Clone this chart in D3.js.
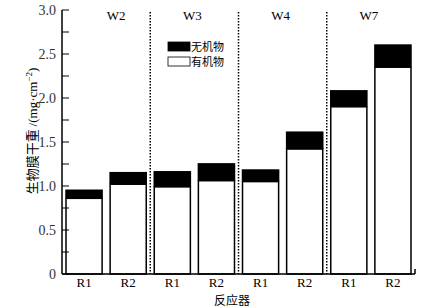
<!DOCTYPE html>
<html>
<head>
<meta charset="utf-8">
<script src="https://cdn.jsdelivr.net/npm/d3@7"></script>
<style>
  body { margin: 0; background: #fff; }
</style>
</head>
<body>
<svg id="chart" width="428" height="307" font-family="'Liberation Serif', 'Times New Roman', 'DejaVu Serif', serif"></svg>
<script>
// data
var groups = ['W2', 'W3', 'W4', 'W7'];
var reactors = ['R1', 'R2'];
var organic = [0.86, 1.02, 0.99, 1.06, 1.05, 1.42, 1.90, 2.35];
var inorganic = [0.10, 0.14, 0.18, 0.20, 0.14, 0.20, 0.19, 0.26];
var yTicks = [0, 0.5, 1.0, 1.5, 2.0, 2.5, 3.0];
var legendNames = ['无机物', '有机物'];

(function() {
    var svg = d3.select('#chart');
    var left = 62, right = 415, top = 10, bottom = 274;
    var serif = "'Liberation Serif', 'Times New Roman', serif";
    var cjk = '"Noto Sans CJK SC"';

    var cats = [];
    groups.forEach(function(g) {
        reactors.forEach(function(r) { cats.push(g + '-' + r); });
    });

    var x = d3.scaleBand()
        .domain(cats)
        .range([left, right])
        .paddingInner(8 / 44)
        .paddingOuter(4 / 44);
    var y = d3.scaleLinear().domain([0, 3]).range([bottom, top]);

    // dotted separators between groups
    for (var i = 1; i < groups.length; i++) {
        var sx = x(cats[i * 2]) - x.step() * x.paddingInner() / 2;
        svg.append('line')
            .attr('x1', sx).attr('x2', sx)
            .attr('y1', top + 2).attr('y2', bottom)
            .style('stroke', '#000')
            .style('stroke-width', 1.5)
            .style('stroke-dasharray', '1.5,1.5');
    }

    // bars
    cats.forEach(function(c, i) {
        var bx = x(c), bw = x.bandwidth();
        var tot = organic[i] + inorganic[i];
        svg.append('rect')
            .attr('x', bx).attr('y', y(organic[i]))
            .attr('width', bw).attr('height', y(0) - y(organic[i]))
            .style('fill', '#fff')
            .style('stroke', '#000')
            .style('stroke-width', 1.5);
        svg.append('rect')
            .attr('x', bx - 0.75).attr('y', y(tot))
            .attr('width', bw + 1.5).attr('height', y(organic[i]) - y(tot))
            .style('fill', '#000');
    });

    // y axis with inward ticks
    var minor = d3.range(0, 3.001, 0.25);
    svg.append('line')
        .attr('x1', left).attr('x2', left)
        .attr('y1', top).attr('y2', bottom)
        .style('stroke', '#000').style('stroke-width', 1.5);
    svg.selectAll('.tk').data(minor).enter().append('line')
        .attr('x1', left).attr('x2', left + 7)
        .attr('y1', function(d) { return y(d); })
        .attr('y2', function(d) { return y(d); })
        .style('stroke', '#000').style('stroke-width', 1);
    svg.selectAll('.yl').data(yTicks).enter().append('text')
        .attr('x', left - 6)
        .attr('y', function(d) { return y(d) + 5; })
        .attr('text-anchor', 'end')
        .style('font-family', serif)
        .style('font-size', '14px')
        .style('fill', '#333')
        .text(function(d) { return d === 0 ? '0' : d.toFixed(1); });

    // x axis
    svg.append('line')
        .attr('x1', left).attr('x2', right)
        .attr('y1', bottom).attr('y2', bottom)
        .style('stroke', '#000').style('stroke-width', 1.5);
    svg.append('line')
        .attr('x1', right).attr('x2', right)
        .attr('y1', bottom).attr('y2', bottom - 5)
        .style('stroke', '#000').style('stroke-width', 1.5);
    cats.forEach(function(c) {
        svg.append('text')
            .attr('x', x(c) + x.bandwidth() / 2)
            .attr('y', bottom + 13)
            .attr('text-anchor', 'middle')
            .style('font-family', serif)
            .style('font-size', '13px')
            .text(c.split('-')[1]);
    });

    // group labels
    groups.forEach(function(g, i) {
        var gx = (x(cats[i * 2]) + x(cats[i * 2 + 1]) + x.bandwidth()) / 2;
        svg.append('text')
            .attr('x', gx + (i === 0 ? 10 : -2))
            .attr('y', 20)
            .attr('text-anchor', 'middle')
            .style('font-family', serif)
            .style('font-size', '13px')
            .text(g);
    });

    // legend
    var lg = svg.append('g').attr('transform', 'translate(168,41)');
    legendNames.forEach(function(n, i) {
        lg.append('rect')
            .attr('y', i * 15 + 1)
            .attr('width', 22).attr('height', 9)
            .style('fill', i === 0 ? '#000' : '#fff')
            .style('stroke', '#000').style('stroke-width', 0.8);
        lg.append('text')
            .attr('x', 23).attr('y', 10 + i * 15)
            .style('font-family', cjk)
            .style('font-size', '11px')
            .text(n);
    });

    // axis titles
    var yt = svg.append('text')
        .attr('transform', 'translate(37,131) rotate(-90)')
        .attr('text-anchor', 'middle')
        .style('font-family', serif)
        .style('font-size', '13px');
    yt.append('tspan').style('font-family', cjk).text('生物膜干重 ');
    yt.append('tspan').text('/(mg·cm');
    yt.append('tspan').attr('dy', -5).style('font-size', '9px').text('−2');
    yt.append('tspan').attr('dy', 5).text(')');

    svg.append('text')
        .attr('x', 232).attr('y', 305)
        .attr('text-anchor', 'middle')
        .style('font-family', cjk)
        .style('font-size', '12px')
        .text('反应器');
})();
</script>
</body>
</html>
